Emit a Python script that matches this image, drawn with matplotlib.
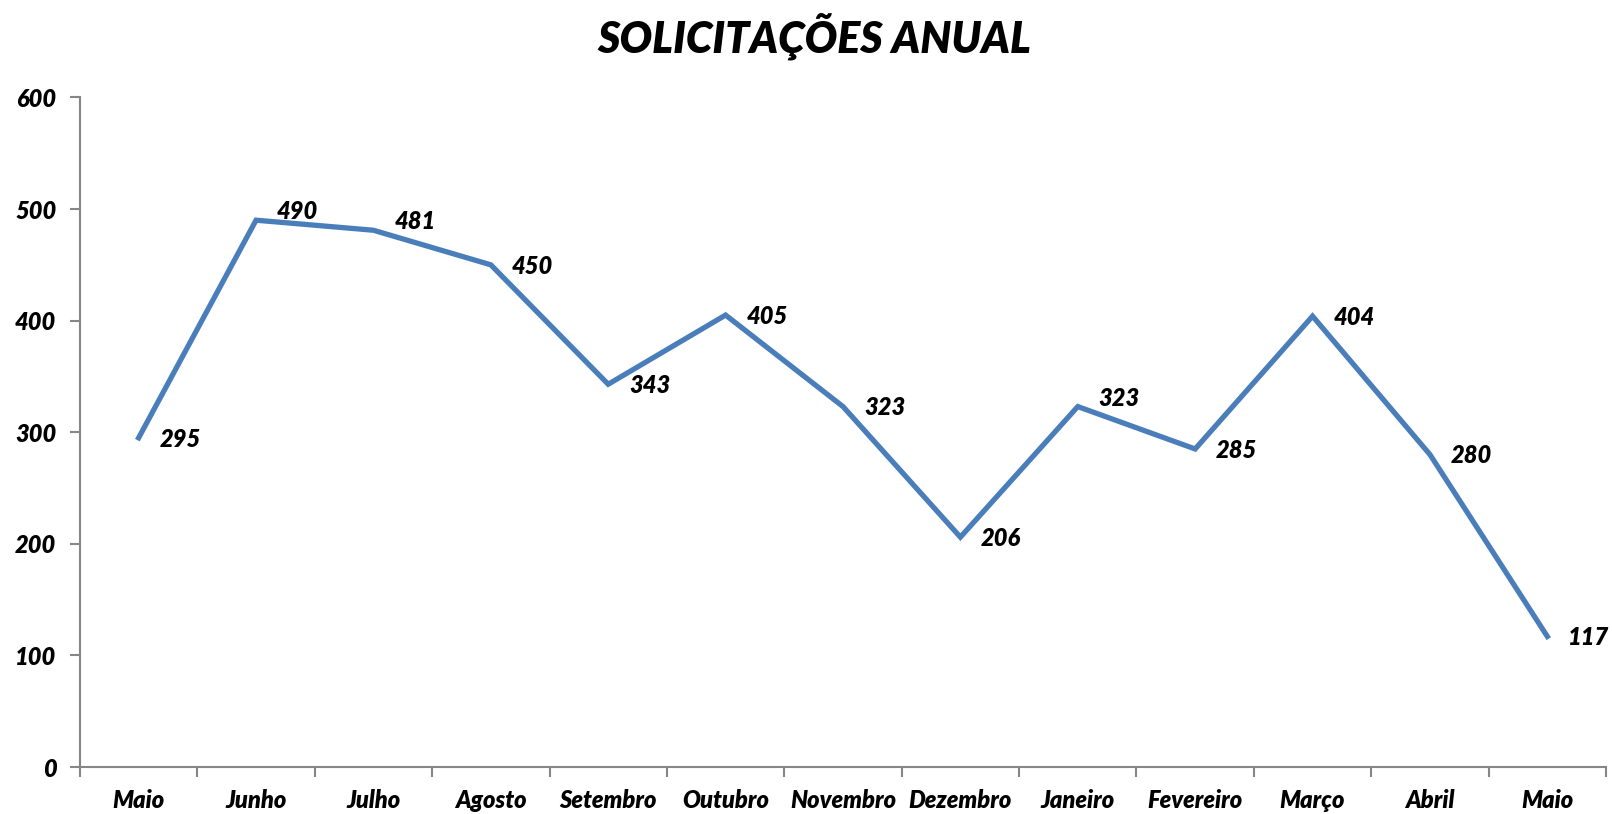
import matplotlib.pyplot as plt
from matplotlib.ticker import FixedLocator, NullFormatter

meses = ["Maio", "Junho", "Julho", "Agosto", "Setembro", "Outubro", "Novembro",
         "Dezembro", "Janeiro", "Fevereiro", "Março", "Abril", "Maio"]
solicitacoes = [295, 490, 481, 450, 343, 405, 323, 206, 323, 285, 404, 280, 117]
yticks = [0, 100, 200, 300, 400, 500, 600]

plt.rcParams['font.family'] = ['Lato', 'DejaVu Sans']
plt.rcParams['font.weight'] = 'heavy'
plt.rcParams['font.style'] = 'italic'


def main():
    fig = plt.figure(figsize=(16.12, 8.14), dpi=100)
    ax = fig.add_axes([0.0496, 0.0577, 0.9467, 0.8226])
    x = list(range(len(meses)))
    ax.plot(x, solicitacoes, color="#4A7EBB", linewidth=3.8, solid_joinstyle="miter")

    # data labels right of each point, lifted a bit where the line runs flat to the right
    for i, v in enumerate(solicitacoes):
        dy = 0
        if i + 1 < len(solicitacoes) and 0 <= v - solicitacoes[i + 1] < 40:
            dy = 7
        ax.annotate(str(v), (i, v), xytext=(15, dy - 1), textcoords="offset points",
                    ha="left", va="center", fontsize=17)

    ax.set_xlim(-0.5, len(meses) - 0.5)
    ax.set_ylim(0, 600)
    ax.set_yticks(yticks)
    ax.set_xticks(x)
    ax.set_xticklabels(meses)
    ax.xaxis.set_minor_locator(FixedLocator([i - 0.5 for i in range(len(meses) + 1)]))
    ax.xaxis.set_minor_formatter(NullFormatter())
    ax.tick_params(axis="x", which="major", length=0, pad=16, labelsize=17)
    ax.tick_params(axis="x", which="minor", length=7, width=1.5, color="#868686")
    ax.tick_params(axis="y", length=7, width=1.5, color="#868686", pad=10, labelsize=17)

    for s in ["top", "right"]:
        ax.spines[s].set_visible(False)
    for s in ["left", "bottom"]:
        ax.spines[s].set_color("#868686")
        ax.spines[s].set_linewidth(1.5)

    fig.text(0.5055, 0.955, "SOLICITAÇÕES ANUAL", ha="center", va="center", fontsize=31)
    fig.savefig("out.png", dpi=100)


if __name__ == '__main__':
    main()
